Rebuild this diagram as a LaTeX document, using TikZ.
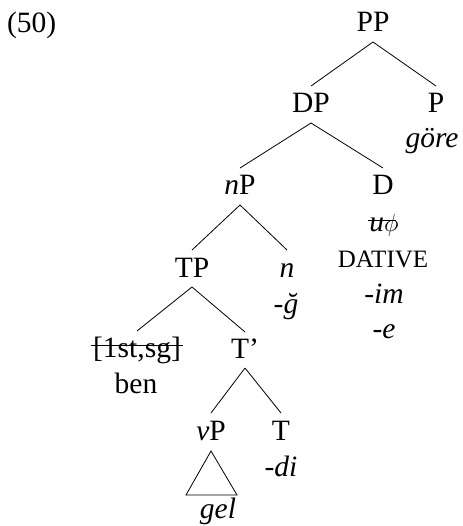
\documentclass[tikz,border=0pt]{standalone}
\usepackage{fontspec}
\setmainfont{Liberation Serif}
\begin{document}
\begin{tikzpicture}[x=1pt,y=1pt,
  every node/.style={inner sep=0pt, outer sep=0pt, anchor=base, font=\fontsize{29.5}{34}\selectfont},
  br/.style={line width=0.8pt},
  strike/.style={line width=0.8pt}]
\useasboundingbox (0,0) rectangle (462,-526);
% labels
\node[anchor=base west] (ex) at (7,-33) {(50)};
\node (pp) at (373,-32) {PP};
\node (dp) at (311,-113) {DP};
\node (p) at (436,-113) {P};
\node (gore) at (432,-148) {\itshape göre};
\node (np) at (240,-195) {\textit{n}P};
\node (d) at (383,-195) {D};
\node (uphi) at (384,-232) {\textit{u}$\phi$};
\node (dat) at (383,-267) {\fontsize{25}{30}\selectfont DATIVE};
\node (im) at (384,-303) {\itshape -im};
\node (e) at (384,-338) {\itshape -e};
\node (tp) at (192,-277) {TP};
\node (n) at (287,-277) {\itshape n};
\node (g) at (286,-313) {\itshape -ğ};
\node (fs) at (137,-357) {[1st,sg]};
\node (ben) at (136,-393) {ben};
\node (tb) at (245,-358) {T’};
\node (vp) at (211,-440) {\textit{v}P};
\node (t) at (281,-440) {T};
\node (di) at (281,-476) {\itshape -di};
\node (gel) at (218,-518) {\itshape gel};
% strikes
\draw[strike] ([shift={(-2,12)}]fs.base west) -- ([shift={(2,12)}]fs.base east);
\draw[strike] ([shift={(-1,12)}]uphi.base west) -- ([shift={(-3,12)}]uphi.base east);
% branches
\draw[br] ([yshift=-10]pp.base) -- ([yshift=27]dp.base);
\draw[br] ([yshift=-10]pp.base) -- ([yshift=27]p.base);
\draw[br] ([yshift=-10]dp.base) -- ([yshift=27]np.base);
\draw[br] ([yshift=-10]dp.base) -- ([yshift=27]d.base);
\draw[br] ([yshift=-10]np.base) -- ([yshift=27]tp.base);
\draw[br] ([yshift=-10]np.base) -- ([yshift=27]n.base);
\draw[br] ([yshift=-10]tp.base) -- ([yshift=26]fs.base);
\draw[br] ([yshift=-10]tp.base) -- ([yshift=26]tb.base);
\draw[br] ([yshift=-10]tb.base) -- ([yshift=27]vp.base);
\draw[br] ([yshift=-10]tb.base) -- ([yshift=27]t.base);
\coordinate (tria) at ([yshift=-11]vp.base);
\draw[br] (tria) -- ([shift={(-25,-55)}]vp.base) -- ([shift={(26,-55)}]vp.base) -- cycle;
\end{tikzpicture}
\end{document}
